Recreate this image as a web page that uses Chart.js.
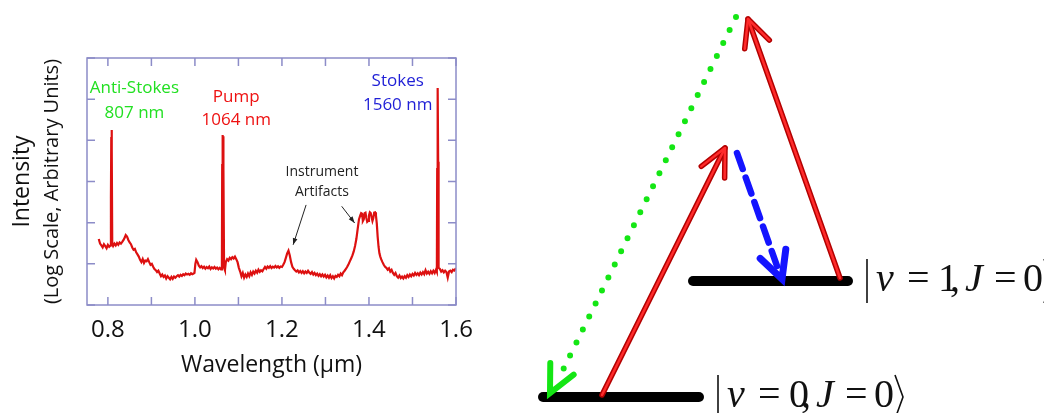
<!DOCTYPE html>
<html>
<head>
<meta charset="utf-8">
<script src="https://cdn.jsdelivr.net/npm/chart.js@4.4.1/dist/chart.umd.min.js"></script>
<style>
  body { margin: 0; background: #fff; }
  #wrap { width: 1044px; height: 413px; }
</style>
</head>
<body>
<div id="wrap"><canvas id="spectrum" width="1044" height="413"></canvas></div>
<script>
// spectrum (wavelength in µm, intensity in arbitrary units, log axis)
const wavelength = [
  0.779, 0.782, 0.785, 0.788, 0.791, 0.794, 0.797, 0.800, 0.803, 0.806,
  0.807, 0.8078, 0.8085, 0.8092, 0.810, 0.812, 0.815, 0.818, 0.821, 0.824,
  0.827, 0.830, 0.833, 0.836, 0.839, 0.841, 0.844, 0.847, 0.850, 0.853,
  0.856, 0.859, 0.862, 0.865, 0.868, 0.871, 0.874, 0.877, 0.880, 0.883,
  0.886, 0.889, 0.892, 0.895, 0.898, 0.901, 0.904, 0.907, 0.910, 0.913,
  0.916, 0.919, 0.922, 0.925, 0.928, 0.931, 0.934, 0.937, 0.940, 0.943,
  0.946, 0.949, 0.952, 0.955, 0.958, 0.961, 0.964, 0.967, 0.970, 0.973,
  0.976, 0.979, 0.982, 0.985, 0.988, 0.991, 0.994, 0.997, 0.999, 1.001,
  1.003, 1.006, 1.009, 1.012, 1.015, 1.018, 1.021, 1.024, 1.027, 1.030,
  1.033, 1.036, 1.039, 1.042, 1.045, 1.048, 1.051, 1.054, 1.057, 1.060,
  1.062, 1.0627, 1.0634, 1.0641, 1.0648, 1.0655, 1.067, 1.069, 1.071, 1.074,
  1.077, 1.080, 1.083, 1.086, 1.089, 1.092, 1.095, 1.098, 1.101, 1.104,
  1.107, 1.110, 1.113, 1.116, 1.119, 1.122, 1.125, 1.128, 1.131, 1.134,
  1.137, 1.140, 1.143, 1.146, 1.149, 1.152, 1.155, 1.158, 1.161, 1.164,
  1.167, 1.170, 1.173, 1.176, 1.179, 1.182, 1.185, 1.188, 1.191, 1.194,
  1.197, 1.200, 1.203, 1.206, 1.209, 1.212, 1.215, 1.218, 1.221, 1.224,
  1.227, 1.230, 1.233, 1.236, 1.239, 1.242, 1.245, 1.248, 1.251, 1.254,
  1.257, 1.260, 1.263, 1.266, 1.269, 1.272, 1.275, 1.278, 1.281, 1.284,
  1.287, 1.290, 1.293, 1.296, 1.299, 1.302, 1.305, 1.308, 1.311, 1.314,
  1.317, 1.320, 1.323, 1.326, 1.329, 1.332, 1.335, 1.338, 1.341, 1.344,
  1.347, 1.350, 1.353, 1.356, 1.359, 1.362, 1.365, 1.368, 1.371, 1.374,
  1.377, 1.380, 1.382, 1.384, 1.386, 1.388, 1.390, 1.392, 1.394, 1.396,
  1.398, 1.400, 1.402, 1.404, 1.406, 1.408, 1.410, 1.412, 1.414, 1.416,
  1.418, 1.420, 1.422, 1.424, 1.426, 1.428, 1.431, 1.434, 1.437, 1.440,
  1.443, 1.446, 1.449, 1.452, 1.455, 1.458, 1.461, 1.464, 1.467, 1.470,
  1.473, 1.476, 1.479, 1.482, 1.485, 1.488, 1.491, 1.494, 1.497, 1.500,
  1.503, 1.506, 1.509, 1.512, 1.515, 1.518, 1.521, 1.524, 1.527, 1.530,
  1.533, 1.536, 1.539, 1.542, 1.545, 1.548, 1.551, 1.554, 1.556, 1.5568,
  1.5575, 1.5582, 1.559, 1.560, 1.563, 1.566, 1.569, 1.572, 1.575, 1.578,
  1.581, 1.584, 1.587, 1.590, 1.593, 1.596, 1.600
];
const intensity = [
  40, 31, 28, 25, 30, 27, 24, 29, 26, 28,
  400, 12000, 17800, 6000, 30, 27, 31, 28, 32, 29,
  33, 31, 34, 38, 44, 50, 46, 38, 33, 30,
  25, 22, 23, 19, 17, 15, 12.5, 11, 13, 10.5,
  12, 11.5, 13, 11, 9.5, 10, 8.5, 7.5, 7, 6.3,
  6.8, 5.8, 5, 5.5, 4.8, 5.2, 4.4, 5, 4.6, 4.2,
  4.8, 4.3, 4.9, 4.6, 5, 5.3, 4.9, 5.4, 5.1, 5.6,
  5.3, 5.8, 5.5, 5.7, 5.4, 5.9, 5.6, 5.8, 6, 10,
  12.5, 11, 9, 8.2, 8.8, 7.9, 8.5, 7.6, 8.3, 7.8,
  8.6, 7.5, 8.2, 7.7, 8.4, 7.6, 8.1, 7.4, 8, 7.3,
  7.8, 2500, 13500, 9000, 12500, 2000, 8, 7, 11, 13,
  12, 14, 13, 14.5, 13.5, 15, 13, 11, 8, 6.5,
  5, 6, 4.6, 5.5, 4.8, 5.8, 5, 6.2, 5.4, 6.5,
  5.8, 6.8, 6.1, 7.2, 6.4, 7, 6.6, 7.5, 8.4, 7.6,
  8.6, 8, 8.8, 7.9, 8.5, 8.1, 8.9, 8.2, 8.7, 8,
  8.6, 8.4, 9.5, 11, 14, 18, 21, 16, 11, 8.5,
  7.6, 7, 6.5, 6.9, 6.2, 6.7, 6, 6.6, 5.9, 6.5,
  6, 6.8, 6.1, 5.7, 6.3, 5.5, 6, 5.3, 5.8, 5.1,
  5.6, 5, 5.5, 4.9, 5.4, 4.7, 5.2, 4.6, 5.3, 4.5,
  5, 4.4, 5.1, 4.8, 5.4, 5, 5.8, 5.3, 6.2, 6.8,
  7.5, 8.5, 9.8, 11.5, 13.5, 16, 20, 27, 40, 70,
  120, 150, 170, 165, 110, 120, 170, 175, 130, 105,
  110, 150, 178, 170, 135, 110, 130, 175, 178, 150,
  95, 45, 26, 18, 15, 13, 11, 9.5, 8.5, 8,
  7.2, 7.8, 6.5, 7.1, 6, 5.4, 6, 5, 4.6, 5.2,
  4.5, 4.9, 4.4, 5, 4.6, 5.3, 4.8, 5.5, 5, 5.7,
  5.2, 6, 5.4, 5.9, 5.3, 6.1, 5.5, 6.3, 5.6, 7,
  5.8, 6.4, 5.7, 6.6, 5.9, 6.8, 6, 7.2, 6.4, 2000,
  150000, 186000, 3000, 8, 7.5, 6.5, 7, 6.2, 6.8, 6.3,
  4.6, 6.5, 6.8, 6.3, 7.2, 6.9, 7.8
];
const xTicks = [0.8, 0.9, 1.0, 1.1, 1.2, 1.3, 1.4, 1.5, 1.6];
const xLabels = ["0.8", "1.0", "1.2", "1.4", "1.6"];
const yTicks = [1, 10, 100, 1000, 10000, 100000, 1000000];

// peak labels, anchored in data units
const notes = [
  { lines: ["Anti-Stokes", "807 nm"], x: 0.861, y: [186000, 46000], color: "#22e022", size: 17 },
  { lines: ["Pump", "1064 nm"], x: 1.095, y: [112000, 31000], color: "#ee1111", size: 17 },
  { lines: ["Stokes", "1560 nm"], x: 1.466, y: [275000, 71000], color: "#1f1fd6", size: 17 },
  { lines: ["Instrument", "Artifacts"], x: 1.292, y: [1700, 550], color: "#222", size: 14 }
];
const noteArrows = [
  [1.2555, 270, 1.2257, 29],
  [1.3373, 250, 1.3671, 98]
];

const framePlugin = {
  id: "frame",
  afterDraw(chart) {
    const ctx = chart.ctx;
    const a = chart.chartArea;
    const xs = chart.scales.x, ys = chart.scales.y;
    ctx.save();
    // box and inward ticks
    ctx.strokeStyle = "#8c8cc8";
    ctx.lineWidth = 1.5;
    ctx.strokeRect(a.left, a.top, a.right - a.left, a.bottom - a.top);
    ctx.beginPath();
    xs.ticks.forEach(t => {
      const px = xs.getPixelForValue(t.value);
      ctx.moveTo(px, a.bottom); ctx.lineTo(px, a.bottom - 8);
      ctx.moveTo(px, a.top); ctx.lineTo(px, a.top + 8);
    });
    ys.ticks.forEach(t => {
      const py = ys.getPixelForValue(t.value);
      ctx.moveTo(a.left, py); ctx.lineTo(a.left + 8, py);
      ctx.moveTo(a.right, py); ctx.lineTo(a.right - 8, py);
    });
    ctx.stroke();

    // y title, two lines of different size
    const cy = (a.top + a.bottom) / 2;
    ctx.fillStyle = "#111";
    ctx.textAlign = "center";
    ctx.textBaseline = "middle";
    ctx.translate(a.left - 65, cy);
    ctx.rotate(-Math.PI / 2);
    ctx.font = '23px "Open Sans"';
    ctx.fillText("Intensity", 0, 0);
    ctx.font = '20px "Open Sans"';
    ctx.fillText("(Log Scale, Arbitrary Units)", 0, 30);
    ctx.setTransform(1, 0, 0, 1, 0, 0);

    // peak labels
    notes.forEach(n => {
      ctx.fillStyle = n.color;
      ctx.font = n.size + 'px "Open Sans"';
      n.lines.forEach((s, i) => {
        ctx.fillText(s, xs.getPixelForValue(n.x), ys.getPixelForValue(n.y[i]));
      });
    });
    ctx.strokeStyle = "#222";
    ctx.fillStyle = "#222";
    ctx.lineWidth = 1;
    noteArrows.forEach(([x0, y0, x1, y1]) => {
      const p0 = [xs.getPixelForValue(x0), ys.getPixelForValue(y0)];
      const p1 = [xs.getPixelForValue(x1), ys.getPixelForValue(y1)];
      ctx.beginPath(); ctx.moveTo(p0[0], p0[1]); ctx.lineTo(p1[0], p1[1]); ctx.stroke();
      const ang = Math.atan2(p1[1] - p0[1], p1[0] - p0[0]);
      ctx.beginPath();
      ctx.moveTo(p1[0], p1[1]);
      ctx.lineTo(p1[0] - 7 * Math.cos(ang - 0.35), p1[1] - 7 * Math.sin(ang - 0.35));
      ctx.lineTo(p1[0] - 7 * Math.cos(ang + 0.35), p1[1] - 7 * Math.sin(ang + 0.35));
      ctx.closePath(); ctx.fill();
    });
    ctx.restore();
    drawLevels(ctx);
  }
};

function chevron(ctx, tip, from, len, spread) {
  const back = Math.atan2(from[1] - tip[1], from[0] - tip[0]);
  ctx.beginPath();
  ctx.moveTo(tip[0] + len * Math.cos(back + spread), tip[1] + len * Math.sin(back + spread));
  ctx.lineTo(tip[0], tip[1]);
  ctx.lineTo(tip[0] + len * Math.cos(back - spread), tip[1] + len * Math.sin(back - spread));
  ctx.stroke();
}

function tubeArrow(ctx, from, tip) {
  ctx.lineCap = "round";
  ctx.lineJoin = "round";
  [["#b30000", 5.5], ["#ff2b2b", 2.5]].forEach(([c, w]) => {
    ctx.strokeStyle = c;
    ctx.lineWidth = w;
    ctx.beginPath(); ctx.moveTo(from[0], from[1]); ctx.lineTo(tip[0], tip[1]); ctx.stroke();
    chevron(ctx, tip, from, 30, 0.45);
  });
}

function ket(ctx, x, base, n) {
  ctx.fillStyle = "#111";
  ctx.strokeStyle = "#111";
  ctx.lineWidth = 1.6;
  ctx.textAlign = "left";
  ctx.textBaseline = "alphabetic";
  ctx.beginPath(); ctx.moveTo(x, base - 32); ctx.lineTo(x, base + 12); ctx.stroke();
  const it = 'italic 40px "Liberation Serif"', up = '40px "Liberation Serif"';
  const parts = [[it, "v", 9], [up, "=", 40], [up, n, 71], [up, ",", 83], [it, "J", 98], [up, "=", 127], [up, "0", 156]];
  parts.forEach(([f, s, dx]) => { ctx.font = f; ctx.fillText(s, x + dx, base); });
  ctx.beginPath();
  ctx.moveTo(x + 177, base - 32); ctx.lineTo(x + 185, base - 10); ctx.lineTo(x + 177, base + 12);
  ctx.stroke();
}

function drawLevels(ctx) {
  ctx.save();
  ctx.lineCap = "round";
  // energy levels
  ctx.strokeStyle = "#000";
  ctx.lineWidth = 10;
  ctx.beginPath(); ctx.moveTo(543, 397); ctx.lineTo(699, 397); ctx.stroke();
  ctx.beginPath(); ctx.moveTo(693, 281); ctx.lineTo(848, 281); ctx.stroke();

  // anti-Stokes, dotted green
  ctx.strokeStyle = "#14e614";
  ctx.lineWidth = 6;
  ctx.setLineDash([0, 14.5]);
  ctx.beginPath(); ctx.moveTo(736, 17); ctx.lineTo(562, 372); ctx.stroke();
  ctx.setLineDash([]);
  chevron(ctx, [550, 393], [736, 17], 30, 0.45);

  // Stokes, dashed blue
  ctx.strokeStyle = "#1414ff";
  ctx.lineWidth = 6.5;
  ctx.setLineDash([17, 9]);
  ctx.beginPath(); ctx.moveTo(737, 153); ctx.lineTo(777, 266); ctx.stroke();
  ctx.setLineDash([]);
  ctx.lineWidth = 7;
  chevron(ctx, [782, 279], [737, 153], 30, 0.47);

  // pump photons
  tubeArrow(ctx, [602, 395], [725, 148]);
  tubeArrow(ctx, [840, 278], [748, 19]);
  ctx.restore();

  ket(ctx, 867, 291, "1");
  ket(ctx, 718, 407, "0");
}

const points = wavelength.map((w, i) => ({ x: w, y: intensity[i] }));

new Chart(document.getElementById("spectrum"), {
  type: "scatter",
  data: {
    datasets: [{
      data: points,
      showLine: true,
      borderColor: "#dd1010",
      borderWidth: 2.2,
      pointRadius: 0,
      tension: 0
    }]
  },
  options: {
    responsive: false,
    animation: false,
    layout: { padding: { left: 87, top: 58, right: 588, bottom: 34 } },
    plugins: { legend: { display: false }, tooltip: { enabled: false } },
    scales: {
      x: {
        type: "linear",
        min: 0.752,
        max: 1.6,
        afterBuildTicks: s => { s.ticks = xTicks.map(v => ({ value: v })); },
        afterFit: s => { s.height = 74; },
        ticks: {
          autoSkip: false,
          maxRotation: 0,
          padding: 3,
          color: "#111",
          font: { family: "Open Sans", size: 24 },
          callback: v => {
            const s = v.toFixed(1);
            return xLabels.includes(s) ? s : "";
          }
        },
        grid: { display: false },
        border: { display: false },
        title: {
          display: true,
          text: "Wavelength (µm)",
          color: "#111",
          font: { family: "Open Sans", size: 23 },
          padding: { top: 8, bottom: 0 }
        }
      },
      y: {
        type: "logarithmic",
        min: 1,
        max: 1000000,
        afterBuildTicks: s => { s.ticks = yTicks.map(v => ({ value: v })); },
        afterFit: s => { s.width = 0; },
        ticks: { display: false },
        grid: { display: false },
        border: { display: false }
      }
    }
  },
  plugins: [framePlugin]
});
</script>
</body>
</html>
